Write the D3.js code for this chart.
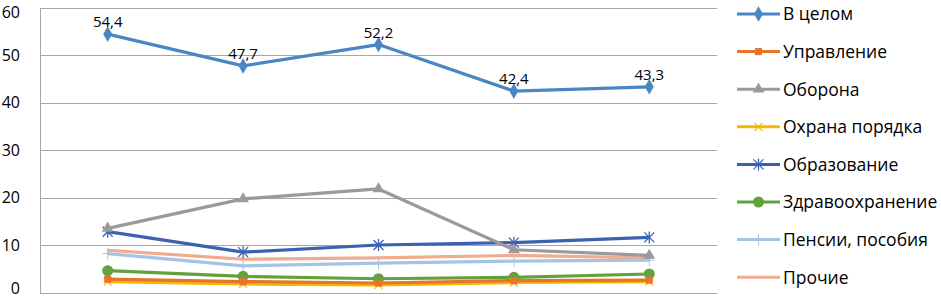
<!DOCTYPE html>
<html>
<head>
<meta charset="utf-8">
<script src="https://cdn.jsdelivr.net/npm/d3@7"></script>
<style>
    body { margin: 0; background: #fff; }
    text { font-family: "Open Sans", "DejaVu Sans", sans-serif; fill: #000; }
</style>
</head>
<body>
<div id="chart"></div>
<script>
// data
const categories = ["1", "2", "3", "4", "5"];
const seriesNames = ["В целом", "Управление", "Оборона", "Охрана порядка",
    "Образование", "Здравоохранение", "Пенсии, пособия", "Прочие"];
const vTotal     = [54.4, 47.7, 52.2, 42.4, 43.3];
const vAdmin     = [2.8, 2.3, 2.0, 2.5, 2.6];
const vDefence   = [13.5, 19.7, 21.8, 9.0, 7.8];
const vPolice    = [2.3, 1.8, 1.6, 2.1, 2.3];
const vEducation = [12.8, 8.5, 10.0, 10.5, 11.6];
const vHealth    = [4.6, 3.4, 2.9, 3.2, 3.9];
const vPensions  = [8.2, 5.6, 6.2, 6.6, 6.8];
const vOther     = [8.9, 7.0, 7.3, 7.8, 7.3];
const yTicks = [0, 10, 20, 30, 40, 50, 60];

const colors = ["#4a86c4", "#e8732a", "#9a9a9a", "#f5b800", "#3a62b0", "#62a23c", "#a4c4e6", "#f2ab8c"];
const markers = ["diamond", "square", "triangle", "x", "star", "circle", "plus", "none"];

const series = seriesNames.map((name, i) => ({
    name: name,
    values: [vTotal, vAdmin, vDefence, vPolice, vEducation, vHealth, vPensions, vOther][i],
    color: colors[i],
    marker: markers[i]
}));

const width = 941, height = 300;
const margin = {top: 7.5, left: 40, right: 224, bottom: 7.5};

const svg = d3.select("#chart").append("svg")
    .attr("width", width)
    .attr("height", height);

const x = d3.scalePoint()
    .domain(categories)
    .range([margin.left, width - margin.right])
    .padding(0.5);

const y = d3.scaleLinear()
    .domain([0, 60])
    .range([height - margin.bottom, margin.top]);

// grid lines
svg.append("g")
    .selectAll("line")
    .data(yTicks)
    .enter()
    .append("line")
    .attr("x1", margin.left)
    .attr("x2", width - margin.right)
    .attr("y1", d => Math.round(y(d)) + 0.5)
    .attr("y2", d => Math.round(y(d)) + 0.5)
    .attr("stroke", "#a6a6a6")
    .attr("stroke-width", 1);

// left axis line
svg.append("line")
    .attr("x1", margin.left + 0.5)
    .attr("x2", margin.left + 0.5)
    .attr("y1", Math.round(y(60)) + 0.5)
    .attr("y2", Math.round(y(0)) + 0.5)
    .attr("stroke", "#a6a6a6");

// tick labels (kept inside the picture at the top and bottom)
svg.append("g")
    .selectAll("text")
    .data(yTicks)
    .enter()
    .append("text")
    .attr("x", 20)
    .attr("y", d => Math.min(Math.max(y(d), 12), 288))
    .attr("dy", "0.36em")
    .attr("text-anchor", "end")
    .style("font-size", "16px")
    .text(d => d);

function drawMarker(g, type, color) {
    if (type === "diamond") {
        g.append("path").attr("d", d3.symbol(d3.symbolDiamond, 70)()).attr("fill", color);
    } else if (type === "square") {
        g.append("path").attr("d", d3.symbol(d3.symbolSquare, 50)()).attr("fill", color);
    } else if (type === "triangle") {
        g.append("path").attr("d", d3.symbol(d3.symbolTriangle, 60)()).attr("fill", color);
    } else if (type === "circle") {
        g.append("circle").attr("r", 5.5).attr("fill", color);
    } else if (type === "x") {
        g.append("path").attr("d", "M-4,-4L4,4M-4,4L4,-4").attr("stroke", color).attr("stroke-width", 1.2);
    } else if (type === "star") {
        g.append("path").attr("d", "M-5,-5L5,5M-5,5L5,-5M0,-6L0,6").attr("stroke", color).attr("stroke-width", 1.3);
    } else if (type === "plus") {
        g.append("path").attr("d", "M-5,0L5,0M0,-6L0,6").attr("stroke", color).attr("stroke-width", 1);
    }
}

const line = d3.line()
    .x((d, i) => x(categories[i]))
    .y(d => y(d));

// draw series from the last to the first, so "В целом" is on top
const seriesG = svg.append("g");
series.slice().reverse().forEach(s => {
    const g = seriesG.append("g");
    g.append("path")
        .attr("d", line(s.values))
        .attr("fill", "none")
        .attr("stroke", s.color)
        .attr("stroke-width", 3.2)
        .attr("stroke-linejoin", "round");
    s.values.forEach((v, i) => {
        const m = g.append("g").attr("transform", `translate(${x(categories[i])},${y(v)})`);
        drawMarker(m, s.marker, s.color);
    });
});

// data labels for total
svg.append("g")
    .selectAll("text")
    .data(vTotal)
    .enter()
    .append("text")
    .attr("x", (d, i) => x(categories[i]))
    .attr("y", d => y(d) - 7)
    .attr("text-anchor", "middle")
    .style("font-size", "15px")
    .text(d => d.toFixed(1).replace(".", ","));

// legend
const legend = svg.append("g")
    .attr("transform", "translate(737, 14)");

const items = legend.selectAll("g")
    .data(series)
    .enter()
    .append("g")
    .attr("transform", (d, i) => `translate(0, ${i * 37.6})`);

items.append("line")
    .attr("x1", 0)
    .attr("x2", 43)
    .attr("stroke", d => d.color)
    .attr("stroke-width", 3);

items.each(function(d) {
    const m = d3.select(this).append("g").attr("transform", "translate(21.5,0)");
    drawMarker(m, d.marker, d.color);
});

items.append("text")
    .attr("x", 46)
    .attr("dy", "0.36em")
    .style("font-size", "17.5px")
    .text(d => d.name);
</script>
</body>
</html>
